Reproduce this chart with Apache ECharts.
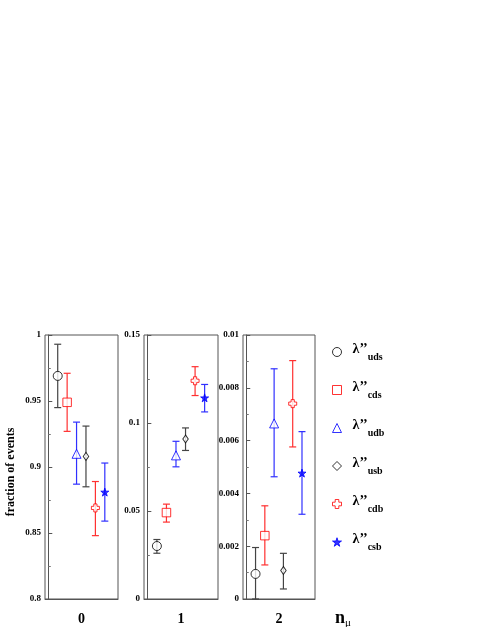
<!DOCTYPE html>
<html><head><meta charset="utf-8">
<script src="https://cdn.jsdelivr.net/npm/echarts@6/dist/echarts.min.js"></script>
<style>html,body{margin:0;padding:0;background:#fff}#c{width:484px;height:627px}</style>
</head><body><div id="c"></div>
<script>
const names = ['uds','cds','udb','usb','cdb','csb'];
const xPos = [1,2,3,4,5,6];
const panelLabels = ['0','1','2'];
const values0 = [0.969,0.949,0.910,0.908,0.869,0.881];
const low0    = [0.945,0.927,0.887,0.885,0.848,0.859];
const high0   = [0.993,0.971,0.934,0.931,0.889,0.903];
const values1 = [0.0301,0.0491,0.0816,0.0909,0.1240,0.1143];
const low1    = [0.0260,0.0437,0.0751,0.0844,0.1156,0.1063];
const high1   = [0.0338,0.0539,0.0896,0.0972,0.1320,0.1219];
const values2 = [0.00095,0.0024,0.00665,0.00108,0.0074,0.00477];
const low2    = [0.0,0.00129,0.00463,0.00038,0.00576,0.00321];
const high2   = [0.00195,0.00353,0.00872,0.00173,0.00903,0.00634];
const yMin = [0.8,0,0], yMax = [1,0.15,0.01], yStep = [0.05,0.05,0.002];

const colors = ['#000000','#ff0000','#0000ff','#000000','#ff0000','#0000ff'];
const barColors = ['#444444','#ff3030','#3030ff','#444444','#ff3030','#3030ff'];
const crossPath = 'path://M3,0 L7,0 L7,3 L10,3 L10,7 L7,7 L7,10 L3,10 L3,7 L0,7 L0,3 L3,3 Z';
const starPath = 'path://M50,0 L61,35 L98,35 L68,57 L79,91 L50,70 L21,91 L32,57 L2,35 L39,35 Z';
const symbols = ['circle','rect','triangle','diamond',crossPath,starPath];
const symSizes = [9,8.5,[9,9],[5.5,8],8,8];
const symFill = ['#ffffff','#ffffff','#ffffff','#ffffff','#ffffff','#0000ff'];

const vals = [values0,values1,values2], lows=[low0,low1,low2], highs=[high0,high1,high2];
const SERIF = '"Liberation Serif","DejaVu Serif",serif';
const gridLefts = [45,144,243], gridWidths=[73,74,72];

const grids = [], xAxes = [], yAxes = [], series = [];
for (let p=0;p<3;p++){
  grids.push({left:gridLefts[p], width:gridWidths[p], top:335, height:269, show:true, borderColor:'#555', borderWidth:1});
  xAxes.push({gridIndex:p, type:'value', min:-0.35, max:7.4, axisLine:{show:true,lineStyle:{color:'#555'}},
    axisTick:{show:false}, axisLabel:{show:false}, splitLine:{show:false},
    name:panelLabels[p], nameLocation:'middle', nameGap:13,
    nameTextStyle:{fontFamily:SERIF, fontWeight:'bold', fontSize:14, color:'#000'}});
  yAxes.push({gridIndex:p, type:'value', min:yMin[p], max:yMax[p], interval:yStep[p],
    axisLine:{show:true,lineStyle:{color:'#555'}},
    axisTick:{show:true, inside:true, length:4, lineStyle:{color:'#555'}},
    minorTick:{show:true, splitNumber:2, length:2.5, lineStyle:{color:'#777'}},
    splitLine:{show:false},
    axisLabel:{fontFamily:SERIF, fontWeight:'bold', fontSize:9, color:'#000', margin:4},
    name: p===0 ? 'fraction of events' : '', nameLocation:'middle', nameGap:28, nameRotate:90,
    nameTextStyle:{fontFamily:SERIF, fontWeight:'bold', fontSize:12, color:'#000', padding:[0,0,0,-10]}});
  series.push({type:'custom', xAxisIndex:p, yAxisIndex:p, silent:true, z:1,
    data: xPos.map((x,i)=>[x, lows[p][i], highs[p][i], i]),
    renderItem:(params, api)=>{
      const lo = api.coord([api.value(0), api.value(1)]);
      const hi = api.coord([api.value(0), api.value(2)]);
      const c = barColors[api.value(3)];
      const w = 3.5;
      const st = {stroke:c, lineWidth:1.2};
      return {type:'group', children:[
        {type:'line', shape:{x1:lo[0],y1:lo[1],x2:hi[0],y2:hi[1]}, style:st},
        {type:'line', shape:{x1:lo[0]-w,y1:lo[1],x2:lo[0]+w,y2:lo[1]}, style:st},
        {type:'line', shape:{x1:hi[0]-w,y1:hi[1],x2:hi[0]+w,y2:hi[1]}, style:st}
      ]};
    }});
  for (let i=0;i<6;i++){
    series.push({type:'scatter', name:names[i], xAxisIndex:p, yAxisIndex:p, z:3,
      symbol:symbols[i], symbolSize:symSizes[i],
      itemStyle:{color:symFill[i], borderColor:colors[i], borderWidth:1},
      data:[[xPos[i], vals[p][i]]]});
  }
}

const chart = echarts.init(document.getElementById('c'), null, {renderer:'canvas'});
chart.setOption({
  animation:false,
  backgroundColor:'#fff',
  grid:grids, xAxis:xAxes, yAxis:yAxes, series:series,
  legend:{data:names, orient:'vertical', left:327, top:337, itemWidth:9, itemHeight:9, itemGap:18,
    selectedMode:false,
    itemStyle:{borderWidth:1},
    formatter: n => '{l|λ’’}{s|' + n + '}',
    textStyle:{rich:{
      l:{fontFamily:SERIF, fontWeight:'bold', fontSize:14, color:'#000', lineHeight:20, verticalAlign:'top', padding:[0,0,0,6]},
      s:{fontFamily:SERIF, fontWeight:'bold', fontSize:10, color:'#000', lineHeight:20, verticalAlign:'bottom'}
    }}},
  graphic:[{type:'text', left:335, top:609, style:{
    text:'{n|n}{m|μ}',
    rich:{n:{fontFamily:SERIF, fontWeight:'bold', fontSize:18, fill:'#000', lineHeight:20, verticalAlign:'top'},
          m:{fontFamily:SERIF, fontSize:11, fill:'#000', lineHeight:20, verticalAlign:'bottom'}}}}]
});
</script></body></html>
